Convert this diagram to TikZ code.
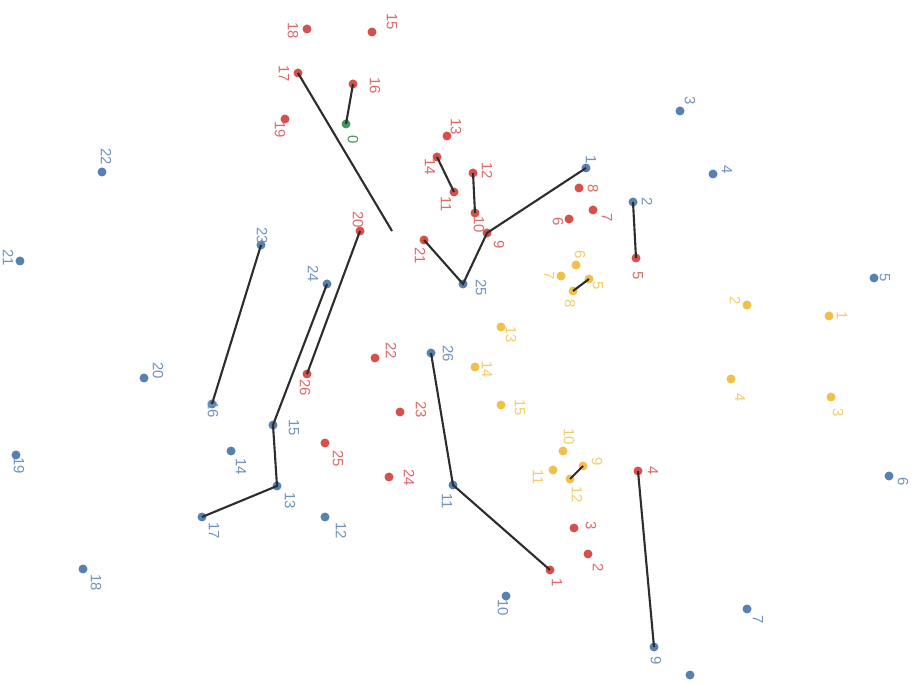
\documentclass[tikz,border=0pt]{standalone}
\usepackage{fontspec}
\setmainfont{Liberation Sans}
\definecolor{ptred}{RGB}{214,80,76}
\definecolor{ptblue}{RGB}{88,128,176}
\definecolor{ptyellow}{RGB}{240,192,72}
\definecolor{ptgreen}{RGB}{72,150,100}
\definecolor{linkgray}{RGB}{45,45,45}
\tikzset{
  dot/.style={circle, inner sep=0pt, minimum size=0.18cm},
  rdot/.style={dot, fill=ptred},
  bdot/.style={dot, fill=ptblue},
  ydot/.style={dot, fill=ptyellow},
  gdot/.style={dot, fill=ptgreen},
  lab/.style={rotate=-90, inner sep=0pt, font=\fontsize{8.5}{9}\selectfont},
  rlab/.style={lab, text=ptred!85},
  blab/.style={lab, text=ptblue!85},
  ylab/.style={lab, text=ptyellow!80},
  glab/.style={lab, text=ptgreen},
  link/.style={draw=linkgray, line width=1.2pt},
}
\begin{document}
\begin{tikzpicture}[x=0.02cm, y=-0.02cm]
\useasboundingbox (0,0) rectangle (916,685);
% red points
\node[rdot] (r1) at (550,570) {};  \node[rlab] (lr1) at (557,583) {1};
\node[rdot] (r2) at (588,554) {};  \node[rlab] (lr2) at (598,568) {2};
\node[rdot] (r3) at (574,528) {};  \node[rlab] (lr3) at (591,526) {3};
\node[rdot] (r4) at (638,471) {};  \node[rlab] (lr4) at (653,471) {4};
\node[rdot] (r5) at (636,258) {};  \node[rlab] (lr5) at (638,276) {5};
\node[rdot] (r6) at (569,219) {};  \node[rlab] (lr6) at (558,222) {6};
\node[rdot] (r7) at (593,210) {};  \node[rlab] (lr7) at (607,218) {7};
\node[rdot] (r8) at (579,188) {};  \node[rlab] (lr8) at (593,189) {8};
\node[rdot] (r9) at (487,233) {};  \node[rlab] (lr9) at (499,245) {9};
\node[rdot] (r10) at (475,213) {}; \node[rlab] (lr10) at (479,225) {10};
\node[rdot] (r11) at (454,192) {}; \node[rlab] (lr11) at (446,204) {11};
\node[rdot] (r12) at (473,173) {}; \node[rlab] (lr12) at (487,171) {12};
\node[rdot] (r13) at (447,136) {}; \node[rlab] (lr13) at (456,127) {13};
\node[rdot] (r14) at (437,157) {}; \node[rlab] (lr14) at (430,167) {14};
\node[rdot] (r15) at (372,32) {};  \node[rlab] (lr15) at (392,22) {15};
\node[rdot] (r16) at (353,84) {};  \node[rlab] (lr16) at (375,86) {16};
\node[rdot] (r17) at (298,73) {};  \node[rlab] (lr17) at (284,74) {17};
\node[rdot] (r18) at (307,29) {};  \node[rlab] (lr18) at (293,31) {18};
\node[rdot] (r19) at (285,119) {}; \node[rlab] (lr19) at (280,130) {19};
\node[rdot] (r20) at (360,231) {}; \node[rlab] (lr20) at (358,220) {20};
\node[rdot] (r21) at (424,240) {}; \node[rlab] (lr21) at (420,256) {21};
\node[rdot] (r22) at (375,358) {}; \node[rlab] (lr22) at (391,351) {22};
\node[rdot] (r23) at (400,412) {}; \node[rlab] (lr23) at (421,410) {23};
\node[rdot] (r24) at (389,477) {}; \node[rlab] (lr24) at (409,478) {24};
\node[rdot] (r25) at (325,443) {}; \node[rlab] (lr25) at (338,459) {25};
\node[rdot] (r26) at (307,374) {}; \node[rlab] (lr26) at (305,388) {26};
% green point
\node[gdot] (g0) at (346,124) {};  \node[glab] (lg0) at (353,140) {0};
% blue points
\node[bdot] (b1) at (586,168) {};  \node[blab] (lb1) at (591,160) {1};
\node[bdot] (b2) at (633,202) {};  \node[blab] (lb2) at (647,202) {2};
\node[bdot] (b3) at (680,111) {};  \node[blab] (lb3) at (690,101) {3};
\node[bdot] (b4) at (713,174) {};  \node[blab] (lb4) at (727,170) {4};
\node[bdot] (b5) at (874,278) {};  \node[blab] (lb5) at (885,278) {5};
\node[bdot] (b6) at (889,476) {};  \node[blab] (lb6) at (903,482) {6};
\node[bdot] (b7) at (747,609) {};  \node[blab] (lb7) at (758,620) {7};
\node[bdot] (b8) at (690,675) {};
\node[bdot] (b9) at (654,647) {};  \node[blab] (lb9) at (656,661) {9};
\node[bdot] (b10) at (506,596) {}; \node[blab] (lb10) at (503,608) {10};
\node[bdot] (b11) at (453,485) {}; \node[blab] (lb11) at (447,501) {11};
\node[bdot] (b12) at (325,517) {}; \node[blab] (lb12) at (341,531) {12};
\node[bdot] (b13) at (277,486) {}; \node[blab] (lb13) at (290,501) {13};
\node[bdot] (b14) at (231,451) {}; \node[blab] (lb14) at (241,467) {14};
\node[bdot] (b15) at (273,425) {}; \node[blab] (lb15) at (294,428) {15};
\node[bdot] (b16) at (212,404) {}; \node[blab] (lb16) at (213,410) {16};
\node[bdot] (b17) at (202,517) {}; \node[blab] (lb17) at (214,531) {17};
\node[bdot] (b18) at (83,569) {};  \node[blab] (lb18) at (96,583) {18};
\node[bdot] (b19) at (16,455) {};  \node[blab] (lb19) at (19,466) {19};
\node[bdot] (b20) at (144,378) {}; \node[blab] (lb20) at (158,371) {20};
\node[bdot] (b21) at (20,261) {};  \node[blab] (lb21) at (8,258) {21};
\node[bdot] (b22) at (102,172) {}; \node[blab] (lb22) at (106,157) {22};
\node[bdot] (b23) at (261,245) {}; \node[blab] (lb23) at (262,236) {23};
\node[bdot] (b24) at (327,284) {}; \node[blab] (lb24) at (313,274) {24};
\node[bdot] (b25) at (463,284) {}; \node[blab] (lb25) at (481,288) {25};
\node[bdot] (b26) at (431,353) {}; \node[blab] (lb26) at (448,354) {26};
% yellow points
\node[ydot] (y1) at (829,316) {};  \node[ylab] (ly1) at (842,316) {1};
\node[ydot] (y2) at (747,305) {};  \node[ylab] (ly2) at (735,301) {2};
\node[ydot] (y3) at (831,397) {};  \node[ylab] (ly3) at (838,413) {3};
\node[ydot] (y4) at (731,379) {};  \node[ylab] (ly4) at (740,398) {4};
\node[ydot] (y5) at (589,279) {};  \node[ylab] (ly5) at (598,286) {5};
\node[ydot] (y6) at (576,265) {};  \node[ylab] (ly6) at (580,255) {6};
\node[ydot] (y7) at (561,276) {};  \node[ylab] (ly7) at (549,276) {7};
\node[ydot] (y8) at (573,291) {};  \node[ylab] (ly8) at (570,304) {8};
\node[ydot] (y9) at (583,466) {};  \node[ylab] (ly9) at (597,462) {9};
\node[ydot] (y10) at (563,451) {}; \node[ylab] (ly10) at (569,437) {10};
\node[ydot] (y11) at (553,470) {}; \node[ylab] (ly11) at (538,477) {11};
\node[ydot] (y12) at (570,479) {}; \node[ylab] (ly12) at (577,495) {12};
\node[ydot] (y13) at (501,327) {}; \node[ylab] (ly13) at (511,335) {13};
\node[ydot] (y14) at (475,367) {}; \node[ylab] (ly14) at (487,370) {14};
\node[ydot] (y15) at (501,405) {}; \node[ylab] (ly15) at (520,408) {15};
% links
\coordinate (tail) at (392,231);
\draw[link] (r17.center) -- (tail);
\draw[link] (r16.center) -- (g0.center);
\draw[link] (r14.center) -- (r11.center);
\draw[link] (r12.center) -- (r10.center);
\draw[link] (r21.center) -- (b25.center) -- (r9.center) -- (b1.center);
\draw[link] (b2.center) -- (r5.center);
\draw[link] (y5.center) -- (y8.center);
\draw[link] (y9.center) -- (y12.center);
\draw[link] (b23.center) -- (b16.center);
\draw[link] (r20.center) -- (r26.center);
\draw[link] (b24.center) -- (b15.center) -- (b13.center) -- (b17.center);
\draw[link] (b26.center) -- (b11.center) -- (r1.center);
\draw[link] (r4.center) -- (b9.center);
\end{tikzpicture}
\end{document}
